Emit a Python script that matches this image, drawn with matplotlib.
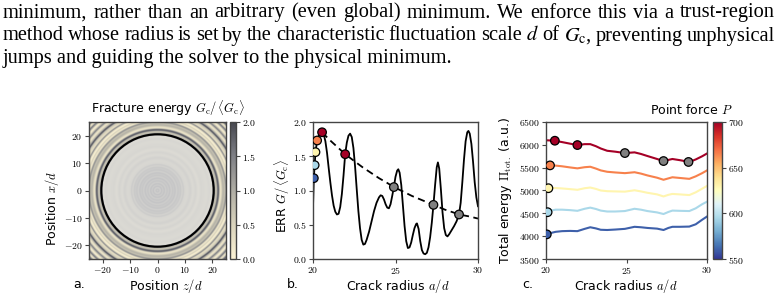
import numpy as np
import matplotlib
matplotlib.use('Agg')
import matplotlib.pyplot as plt
from matplotlib.colors import LinearSegmentedColormap, Normalize
from matplotlib.patches import Circle
from matplotlib.ticker import FuncFormatter
import matplotlib.cm as cm

plt.rcParams['font.family'] = 'DejaVu Sans'
plt.rcParams['mathtext.fontset'] = 'cm'

# ---- paragraph text above the figure
para_lines = [
    "minimum, rather than an arbitrary (even global) minimum.  We enforce this via a trust-region",
    r"method whose radius is set by the characteristic fluctuation scale $d$ of $G_\mathrm{c}$, preventing unphysical",
    "jumps and guiding the solver to the physical minimum.",
]

# ---- fracture energy profile Gc(r)/<Gc> (radius in units of d)
r_inner = [0.0, 0.5, 1.0, 1.5, 2.0, 2.5, 3.0, 3.5, 4.0, 4.5, 5.0, 5.5, 6.0, 6.5, 7.0, 7.5,
           8.0, 8.5, 9.0, 9.5, 10.0, 11.0, 12.0, 13.0, 14.0, 15.0, 16.0, 17.0, 18.0, 19.0, 19.7]
g_inner = [1.1, 1.45, 1.1, 1.45, 1.2, 1.45, 1.15, 1.4, 1.2, 1.45, 1.15, 1.35, 1.25, 1.4, 1.1, 1.35,
           1.2, 1.3, 1.05, 1.25, 1.0, 0.95, 1.1, 0.9, 1.05, 0.85, 1.0, 0.95, 0.9, 1.0, 0.85]

# solid curve of panel b (same profile, 20 <= a <= 30)
a_gc = [20.0, 20.05, 20.1, 20.15, 20.25, 20.35, 20.45, 20.55, 20.65, 20.75, 20.85, 20.95,
        21.05, 21.15, 21.25, 21.35, 21.45, 21.55, 21.65, 21.75, 21.85, 21.95, 22.05, 22.15,
        22.25, 22.35, 22.45, 22.55, 22.65, 22.75, 22.85, 22.95, 23.05, 23.15, 23.25, 23.4,
        23.55, 23.7, 23.85, 24.0, 24.1, 24.2, 24.3, 24.4, 24.5, 24.6, 24.7, 24.8, 24.9, 25.0,
        25.1, 25.17, 25.25, 25.35, 25.45, 25.55, 25.65, 25.75, 25.85, 25.95, 26.05, 26.15,
        26.25, 26.3, 26.4, 26.5, 26.6, 26.7, 26.8, 26.9, 27.0, 27.1, 27.2, 27.3, 27.4, 27.5,
        27.57, 27.65, 27.75, 27.85, 27.95, 28.05, 28.15, 28.25, 28.4, 28.55, 28.7, 28.85,
        28.95, 29.05, 29.15, 29.25, 29.35, 29.42, 29.5, 29.6, 29.7, 29.8, 29.9, 30.0]
g_gc = [0.76, 1.18, 1.37, 1.56, 1.73, 1.80, 1.84, 1.85, 1.82, 1.72, 1.55, 1.33,
        1.12, 0.93, 0.78, 0.69, 0.65, 0.66, 0.76, 0.95, 1.22, 1.53, 1.70, 1.80,
        1.83, 1.78, 1.62, 1.35, 1.02, 0.70, 0.45, 0.28, 0.21, 0.22, 0.28, 0.40,
        0.55, 0.70, 0.82, 0.90, 0.93, 0.92, 0.87, 0.80, 0.75, 0.74, 0.80, 0.92, 1.05, 1.20,
        1.29, 1.31, 1.26, 1.08, 0.78, 0.48, 0.26, 0.16, 0.17, 0.24, 0.35, 0.45,
        0.51, 0.52, 0.44, 0.26, 0.13, 0.08, 0.07, 0.09, 0.17, 0.32, 0.53, 0.79, 1.08, 1.34,
        1.41, 1.32, 1.02, 0.68, 0.45, 0.35, 0.33, 0.36, 0.42, 0.48, 0.55, 0.65,
        0.82, 1.12, 1.45, 1.72, 1.85, 1.87, 1.83, 1.68, 1.42, 1.12, 0.90, 0.77]

r_outer = [30.3, 30.6, 31.0, 31.4, 31.8, 32.2, 32.6, 33.0, 33.4, 33.8, 34.2, 34.6, 35.0, 35.5, 36.0]
g_outer = [0.40, 0.15, 0.60, 1.60, 0.90, 0.20, 0.10, 1.00, 1.70, 0.60, 0.10, 1.20, 1.80, 1.40, 0.50]

crack_radius = 20.5

# dashed ERR curve of panel b
a_err = [20.55, 21.0, 21.5, 21.95, 22.5, 23.0, 23.5, 24.0, 24.5, 24.9, 25.5, 26.0, 26.5,
         27.0, 27.3, 28.0, 28.5, 28.85, 29.5, 30.0]
g_err = [1.85, 1.74, 1.63, 1.53, 1.43, 1.34, 1.26, 1.18, 1.11, 1.05, 0.98, 0.92, 0.87,
         0.82, 0.79, 0.72, 0.68, 0.65, 0.62, 0.59]

# ---- total energy curves of panel c
forces = [560, 595, 630, 665, 700]
a_c = [20.0, 20.3, 20.6, 21.0, 21.5, 21.95, 22.4, 22.75, 23.1, 23.4, 23.8, 24.3, 24.9,
       25.5, 25.9, 26.3, 26.9, 27.3, 27.6, 27.85, 28.3, 28.9, 29.3, 29.7, 30.0]
energy = {
    560: [4040, 4070, 4095, 4110, 4115, 4110, 4160, 4195, 4170, 4140, 4135, 4145, 4160,
          4205, 4195, 4180, 4165, 4135, 4180, 4205, 4205, 4210, 4260, 4360, 4430],
    595: [4525, 4560, 4580, 4580, 4570, 4555, 4600, 4625, 4595, 4560, 4540, 4540, 4550,
          4600, 4580, 4550, 4520, 4485, 4530, 4560, 4555, 4550, 4610, 4700, 4755],
    630: [5045, 5055, 5055, 5045, 5030, 5015, 5050, 5065, 5035, 5000, 4985, 4980, 4975,
          5005, 4980, 4950, 4915, 4870, 4905, 4925, 4915, 4900, 4960, 5040, 5100],
    665: [5545, 5550, 5545, 5530, 5505, 5485, 5510, 5520, 5480, 5440, 5410, 5395, 5380,
          5400, 5370, 5330, 5280, 5235, 5265, 5290, 5275, 5255, 5310, 5380, 5440],
    700: [6100, 6095, 6085, 6060, 6025, 5995, 6015, 6015, 5970, 5920, 5870, 5850, 5820,
          5835, 5800, 5755, 5690, 5645, 5670, 5690, 5665, 5625, 5680, 5750, 5810],
}

# solver steps (markers)
a_step = [20.05, 20.1, 20.15, 20.25, 20.55, 21.95, 24.9, 27.3, 28.85]
g_step = [1.18, 1.37, 1.56, 1.73, 1.85, 1.53, 1.05, 0.79, 0.65]
e_step = [4040, 4525, 5050, 5550, 6090, 5995, 5820, 5645, 5625]
p_step = [560, 595, 630, 665, 700, 700, None, None, None]

W, H = 779, 298
fig = plt.figure(figsize=(W / 100, H / 100), dpi=100)
LABEL_FS = 9


def box(x0, y0, x1, y1):
    return [x0 / W, 1 - y1 / H, (x1 - x0) / W, (y1 - y0) / H]


def math_fmt(fmt):
    return FuncFormatter(lambda v, p: '$' + fmt.format(v) + '$')


def style(ax):
    for s in ax.spines.values():
        s.set_color('#444444')
        s.set_linewidth(1.0)
    ax.tick_params(direction='out', length=3, width=0.8, color='#444444',
                   labelsize=7, pad=1.5)


# paragraph, justified; font size chosen so the first line fills the width
renderer = fig.canvas.get_renderer()
x_left, x_right = 3, 775
probe = fig.text(0, 0, para_lines[0], fontsize=10, family='Liberation Serif',
                 math_fontfamily='stix')
fs = 10 * (x_right - x_left) * 0.985 / probe.get_window_extent(renderer).width
probe.remove()
tkw = dict(fontsize=fs, family='Liberation Serif', math_fontfamily='stix', va='baseline')
for i, (line, yb) in enumerate(zip(para_lines, [17.5, 40.5, 63.5])):
    if i == 2:
        fig.text(x_left / W, 1 - yb / H, line, **tkw)
        continue
    words = line.split()
    texts = [fig.text(0, 1 - yb / H, w, **tkw) for w in words]
    widths = [t.get_window_extent(renderer).width for t in texts]
    gap = (x_right - x_left - sum(widths)) / (len(words) - 1)
    x = x_left
    for t, w in zip(texts, widths):
        t.set_x(x / W)
        x += w + gap

# ---- panel a
cmap_gc = LinearSegmentedColormap.from_list(
    'gc', ['#fbf2d4', '#d9d3bc', '#afada4', '#7f8086', '#46474f'])
ax_a = fig.add_axes(box(89, 122, 226, 259))
cax_a = fig.add_axes(box(230, 122, 236, 259))
r_all = np.array(r_inner + a_gc + r_outer)
g_all = np.array(g_inner + g_gc + g_outer)
xs = np.linspace(-25, 25, 260)
X, Y = np.meshgrid(xs, xs)
field = np.interp(np.hypot(X, Y), r_all, g_all)
im = ax_a.imshow(field, extent=[-25, 25, -25, 25], origin='lower', cmap=cmap_gc,
                 vmin=0, vmax=2, interpolation='bilinear')
ax_a.add_patch(Circle((0, 0), crack_radius, facecolor='white', alpha=0.5, edgecolor='none'))
ax_a.add_patch(Circle((0, 0), crack_radius, facecolor='none', edgecolor='black', lw=1.5))
ax_a.set_xticks([-20, -10, 0, 10, 20])
ax_a.set_yticks([-20, -10, 0, 10, 20])
ax_a.xaxis.set_major_formatter(math_fmt('{:g}'))
ax_a.yaxis.set_major_formatter(math_fmt('{:g}'))
style(ax_a)
cb_a = fig.colorbar(im, cax=cax_a, ticks=[0, 0.5, 1.0, 1.5, 2.0])
cb_a.ax.yaxis.set_major_formatter(math_fmt('{:.1f}'))
cb_a.outline.set_edgecolor('#444444')
cb_a.outline.set_linewidth(1.0)
style(cax_a)
fig.text(168 / W, 1 - 113 / H, r'Fracture energy $G_\mathrm{c}/\,\langle G_\mathrm{c}\rangle$',
         ha='center', va='baseline', fontsize=LABEL_FS)
fig.text(166 / W, 1 - 290 / H, r'Position $z/d$', ha='center', va='baseline', fontsize=LABEL_FS)
fig.text(52 / W, 1 - 209 / H, r'Position $x/d$', ha='center', va='center',
         rotation=90, fontsize=LABEL_FS)

# ---- panel b
ax_b = fig.add_axes(box(313, 122, 478, 259))
ax_b.plot(a_gc, g_gc, color='black', lw=1.3)
ax_b.plot(a_err, g_err, color='black', lw=1.3, ls=(0, (4, 2.5)))
norm = Normalize(550, 700)
cmap_p = plt.get_cmap('RdYlBu_r')
step_colors = [cmap_p(norm(p)) if p is not None else '#808080' for p in p_step]
ax_b.scatter(a_step, g_step, s=38, c=step_colors, edgecolors='black', linewidths=0.9, zorder=3)
ax_b.set_xlim(20, 30)
ax_b.set_ylim(0, 2)
ax_b.set_xticks([20, 25, 30])
ax_b.set_yticks([0, 0.5, 1.0, 1.5, 2.0])
ax_b.xaxis.set_major_formatter(math_fmt('{:g}'))
ax_b.yaxis.set_major_formatter(math_fmt('{:.1f}'))
style(ax_b)
fig.text(398 / W, 1 - 290 / H, r'Crack radius $a/d$', ha='center', va='baseline', fontsize=LABEL_FS)
fig.text(282 / W, 1 - 196 / H, r'ERR $G/\,\langle G_\mathrm{c}\rangle$', ha='center', va='center',
         rotation=90, fontsize=LABEL_FS)

# ---- panel c
ax_c = fig.add_axes(box(546, 122, 707, 259))
cax_c = fig.add_axes(box(713, 122, 722, 259))
for p in forces:
    ax_c.plot(a_c, energy[p], color=cmap_p(norm(p)), lw=1.5)
ax_c.scatter(a_step, e_step, s=38, c=step_colors, edgecolors='black', linewidths=0.9, zorder=3)
ax_c.set_xlim(20, 30)
ax_c.set_ylim(3500, 6500)
ax_c.set_xticks([20, 25, 30])
ax_c.set_yticks([3500, 4000, 4500, 5000, 5500, 6000, 6500])
ax_c.xaxis.set_major_formatter(math_fmt('{:g}'))
ax_c.yaxis.set_major_formatter(math_fmt('{:g}'))
style(ax_c)
cb_c = fig.colorbar(cm.ScalarMappable(norm=norm, cmap=cmap_p), cax=cax_c,
                    ticks=[550, 600, 650, 700])
cb_c.ax.yaxis.set_major_formatter(math_fmt('{:g}'))
cb_c.outline.set_edgecolor('#444444')
cb_c.outline.set_linewidth(1.0)
style(cax_c)
fig.text(691 / W, 1 - 114 / H, r'Point force $P$', ha='center', va='baseline', fontsize=LABEL_FS)
fig.text(626 / W, 1 - 290 / H, r'Crack radius $a/d$', ha='center', va='baseline', fontsize=LABEL_FS)
fig.text(505 / W, 1 - 190 / H, r'Total energy $\Pi_\mathrm{tot.}$ (a.u.)', ha='center',
         va='center', rotation=90, fontsize=LABEL_FS)

# panel letters
for lbl, xp in [('a.', 73), ('b.', 287), ('c.', 522)]:
    fig.text(xp / W, 1 - 288 / H, lbl, ha='left', va='baseline', fontsize=9)

fig.savefig('out.png', dpi=100)
